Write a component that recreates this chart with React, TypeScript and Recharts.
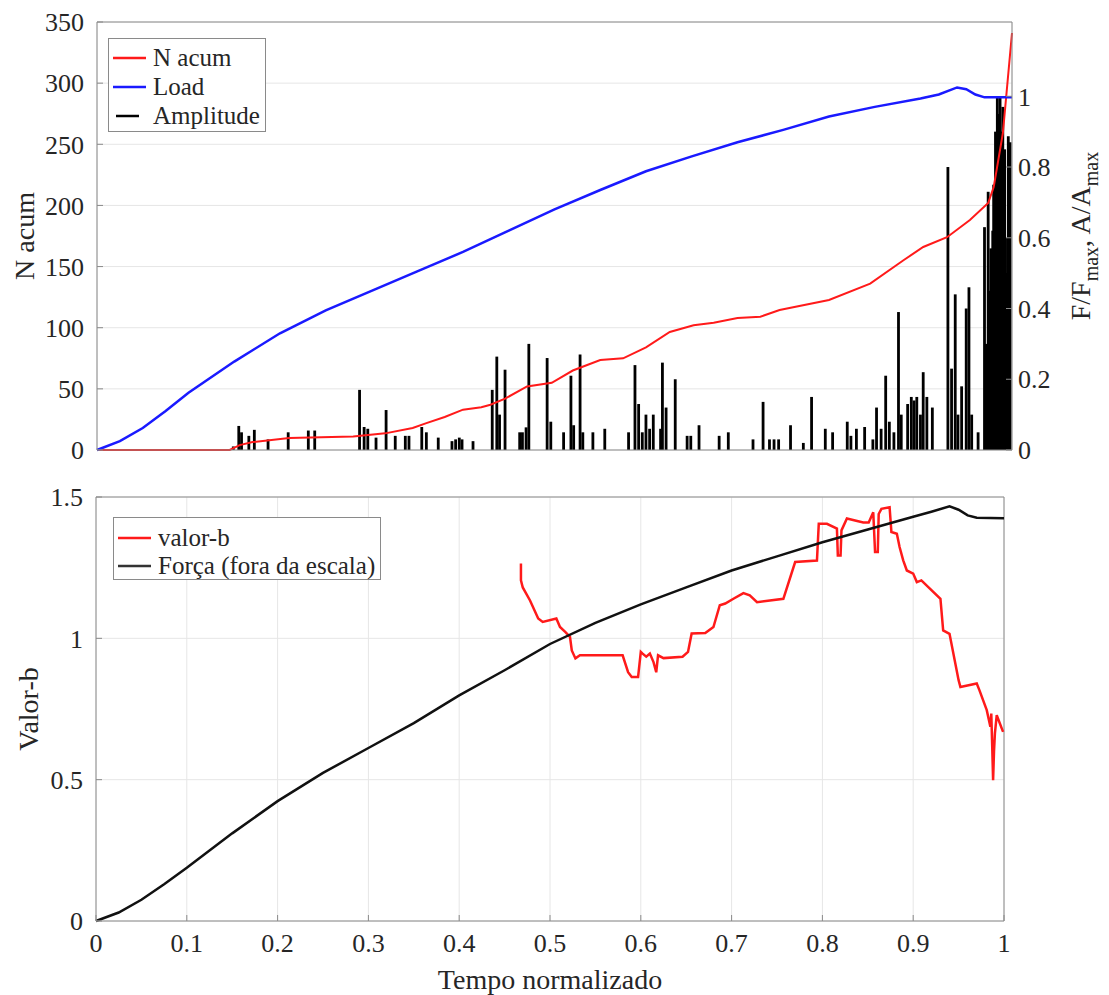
import React from 'react';
import {
  ComposedChart,
  LineChart,
  Line,
  Bar,
  XAxis,
  YAxis,
  CartesianGrid,
  Legend,
  ReferenceLine,
} from 'recharts';

const FONT = '"Liberation Serif", "Times New Roman", serif';
const TEXT = '#262626';
const AXIS = '#8a8a8a';
const GRID = '#e6e6e6';

// axis ticks
const xTicks = [0, 0.1, 0.2, 0.3, 0.4, 0.5, 0.6, 0.7, 0.8, 0.9, 1];
const nTicks = [0, 50, 100, 150, 200, 250, 300, 350];
const ratioTicks = [0, 0.2, 0.4, 0.6, 0.8, 1];
const bTicks = [0, 0.5, 1, 1.5];

// top panel: accumulated hits (left axis)
const nAcumT = [0, 0.145, 0.156, 0.17, 0.21, 0.28, 0.315, 0.345, 0.36, 0.38, 0.4, 0.42, 0.43, 0.446, 0.47, 0.497, 0.52, 0.55, 0.575, 0.6, 0.626, 0.652, 0.674, 0.7, 0.725, 0.746, 0.8, 0.845, 0.881, 0.903, 0.929, 0.954, 0.974, 0.98, 0.99, 1.0];
const nAcumV = [0, 0, 4, 6.5, 9.8, 11, 13.6, 18, 22, 27, 33, 35, 37, 42, 52, 55, 65, 73.6, 75, 84, 96.5, 102, 104, 108, 109, 114.5, 122.7, 136, 155, 166, 174, 188, 202, 215, 259, 341];

// top panel: normalised load (right axis)
const loadT = [0, 0.025, 0.05, 0.075, 0.1, 0.15, 0.2, 0.25, 0.3, 0.35, 0.4, 0.45, 0.5, 0.55, 0.6, 0.65, 0.7, 0.75, 0.8, 0.85, 0.9, 0.92, 0.94, 0.95, 0.96, 0.97, 1.0];
const loadV = [0, 0.025, 0.062, 0.11, 0.162, 0.25, 0.33, 0.395, 0.45, 0.505, 0.56, 0.62, 0.68, 0.735, 0.788, 0.83, 0.87, 0.905, 0.943, 0.97, 0.994, 1.005, 1.025, 1.02, 1.005, 0.997, 0.997];

// top panel: normalised amplitude stems (right axis)
const ampT = [0.149, 0.155, 0.158, 0.166, 0.172, 0.187, 0.209, 0.231, 0.238, 0.287, 0.292, 0.296, 0.305, 0.316, 0.326, 0.337, 0.341, 0.355, 0.36, 0.373, 0.388, 0.392, 0.396, 0.399, 0.411, 0.432, 0.437, 0.44, 0.446, 0.462, 0.465, 0.469, 0.472, 0.492, 0.496, 0.51, 0.518, 0.521, 0.528, 0.531, 0.542, 0.555, 0.581, 0.588, 0.592, 0.596, 0.6, 0.604, 0.608, 0.616, 0.618, 0.622, 0.632, 0.645, 0.649, 0.658, 0.68, 0.69, 0.717, 0.728, 0.735, 0.74, 0.745, 0.758, 0.772, 0.781, 0.796, 0.804, 0.82, 0.824, 0.83, 0.839, 0.848, 0.852, 0.857, 0.862, 0.866, 0.871, 0.876, 0.879, 0.886, 0.89, 0.893, 0.896, 0.9, 0.903, 0.907, 0.913, 0.93, 0.934, 0.938, 0.941, 0.945, 0.95, 0.953, 0.956, 0.963, 0.97, 0.972, 0.974, 0.976, 0.977, 0.979, 0.98, 0.981, 0.982, 0.983, 0.984, 0.985, 0.986, 0.987, 0.988, 0.989, 0.99, 0.991, 0.992, 0.993, 0.994, 0.995, 0.996, 0.997, 0.998];
const ampV = [0.01, 0.068, 0.05, 0.04, 0.057, 0.03, 0.05, 0.055, 0.055, 0.17, 0.065, 0.06, 0.035, 0.113, 0.04, 0.04, 0.04, 0.065, 0.05, 0.035, 0.025, 0.03, 0.035, 0.03, 0.025, 0.17, 0.264, 0.1, 0.227, 0.05, 0.05, 0.064, 0.3, 0.26, 0.08, 0.05, 0.21, 0.07, 0.27, 0.05, 0.05, 0.06, 0.05, 0.24, 0.13, 0.05, 0.1, 0.06, 0.1, 0.06, 0.247, 0.12, 0.2, 0.04, 0.04, 0.07, 0.04, 0.05, 0.03, 0.136, 0.03, 0.03, 0.03, 0.07, 0.02, 0.15, 0.06, 0.05, 0.08, 0.04, 0.06, 0.065, 0.03, 0.12, 0.06, 0.21, 0.08, 0.05, 0.39, 0.1, 0.13, 0.15, 0.14, 0.15, 0.1, 0.22, 0.15, 0.12, 0.8, 0.23, 0.44, 0.1, 0.18, 0.4, 0.46, 0.1, 0.05, 0.63, 0.3, 0.73, 0.45, 0.57, 0.62, 0.75, 0.55, 0.9, 0.7, 1.0, 0.8, 0.95, 1.0, 0.9, 0.6, 0.97, 0.75, 0.85, 0.6, 0.3, 0.5, 0.887, 0.7, 0.87];

// bottom panel: b-value
const valorBT = [0.468, 0.468, 0.47, 0.478, 0.487, 0.492, 0.507, 0.511, 0.517, 0.522, 0.524, 0.528, 0.533, 0.58, 0.586, 0.59, 0.597, 0.6, 0.602, 0.606, 0.61, 0.614, 0.617, 0.619, 0.625, 0.646, 0.652, 0.656, 0.671, 0.68, 0.687, 0.693, 0.702, 0.713, 0.72, 0.728, 0.757, 0.77, 0.794, 0.796, 0.805, 0.816, 0.817, 0.82, 0.821, 0.827, 0.845, 0.851, 0.856, 0.858, 0.861, 0.862, 0.865, 0.874, 0.876, 0.882, 0.885, 0.889, 0.893, 0.9, 0.904, 0.909, 0.93, 0.933, 0.94, 0.95, 0.952, 0.97, 0.973, 0.981, 0.985, 0.986, 0.987, 0.988, 0.989, 0.99, 0.992, 0.999];
const valorBV = [1.265, 1.205, 1.18, 1.134, 1.07, 1.058, 1.07, 1.04, 1.022, 1.005, 0.957, 0.929, 0.94, 0.94, 0.88, 0.863, 0.863, 0.952, 0.946, 0.935, 0.946, 0.916, 0.88, 0.94, 0.93, 0.935, 0.952, 1.017, 1.019, 1.04, 1.117, 1.123, 1.14, 1.16, 1.152, 1.128, 1.14, 1.27, 1.275, 1.405, 1.405, 1.388, 1.293, 1.293, 1.382, 1.424, 1.41, 1.41, 1.446, 1.305, 1.305, 1.44, 1.458, 1.464, 1.376, 1.37, 1.323, 1.276, 1.24, 1.229, 1.199, 1.205, 1.14, 1.028, 1.016, 0.852, 0.828, 0.84, 0.816, 0.746, 0.687, 0.734, 0.62, 0.498, 0.6, 0.664, 0.728, 0.669];

// bottom panel: force (off scale)
const forcaT = [0, 0.025, 0.05, 0.075, 0.1, 0.15, 0.2, 0.25, 0.3, 0.35, 0.4, 0.45, 0.5, 0.55, 0.6, 0.65, 0.7, 0.75, 0.8, 0.85, 0.9, 0.92, 0.94, 0.95, 0.96, 0.97, 1.0];
const forcaV = [0, 0.03, 0.075, 0.13, 0.188, 0.31, 0.424, 0.524, 0.612, 0.7, 0.798, 0.887, 0.98, 1.055, 1.12, 1.18, 1.24, 1.29, 1.34, 1.385, 1.43, 1.448, 1.467, 1.455, 1.435, 1.427, 1.425];

const pair = (ts: number[], vs: number[]) => ts.map((t, i) => ({ t, v: vs[i] }));
const nAcumData = pair(nAcumT, nAcumV);
const loadData = pair(loadT, loadV);
const ampData = pair(ampT, ampV);
const valorBData = pair(valorBT, valorBV);
const forcaData = pair(forcaT, forcaV);

const tickStyle = { fontFamily: FONT, fontSize: 26, fill: TEXT };

type LegendItem = { label: string; color: string; short?: boolean };

const LegendBox = ({ items, width, height, padTop, rowH }: { items: LegendItem[]; width: number; height: number; padTop: number; rowH: number }) => (
  <div
    style={{
      width,
      height,
      boxSizing: 'border-box',
      border: `1px solid ${AXIS}`,
      background: '#fff',
      paddingTop: padTop,
      fontFamily: FONT,
      fontSize: 25,
      color: TEXT,
    }}
  >
    {items.map((it) => (
      <div key={it.label} style={{ display: 'flex', alignItems: 'center', height: rowH, whiteSpace: 'nowrap' }}>
        <svg width={42} height={10} style={{ flex: 'none' }}>
          <line x1={it.short ? 7 : 4} x2={it.short ? 30 : 37} y1={5} y2={5} stroke={it.color} strokeWidth={2.5} />
        </svg>
        <span style={{ marginLeft: 2 }}>{it.label}</span>
      </div>
    ))}
  </div>
);

// amplitude stem, fixed pixel width centred on its x value
const Stem = (props: any) => {
  const { x, y, width, height } = props;
  if (!height || height <= 0) return null;
  return <rect x={x + width / 2 - 1.4} y={y} width={2.8} height={height} fill="#000" />;
};

const VTitle = ({ lx, ly, text }: { lx: number; ly: number; text: string }) => (
  <text transform={`translate(${lx},${ly}) rotate(-90)`} textAnchor="middle" fontFamily={FONT} fontSize={28} fill={TEXT}>
    {text}
  </text>
);

const RightTitle = () => (
  <text transform="translate(1090,236) rotate(-90)" textAnchor="middle" fontFamily={FONT} fontSize={28} fill={TEXT}>
    F/F<tspan fontSize={20} dy={8}>max</tspan>
    <tspan dy={-8}>, A/A</tspan>
    <tspan fontSize={20} dy={8}>max</tspan>
  </text>
);

const BottomTitle = () => (
  <text x={550} y={509} textAnchor="middle" fontFamily={FONT} fontSize={28} fill={TEXT}>
    Tempo normalizado
  </text>
);

export default function App() {
  return (
    <div style={{ position: 'absolute', left: 0, top: 0, width: 1109, height: 995, background: '#fff' }}>
      <div style={{ position: 'absolute', left: 0, top: 0 }}>
        <ComposedChart width={1109} height={480} data={ampData} margin={{ top: 22, right: 37, left: 37, bottom: 0 }}>
          <CartesianGrid stroke={GRID} yAxisId="left" />
          <XAxis
            dataKey="t"
            type="number"
            domain={[0, 1]}
            ticks={xTicks}
            interval={0}
            tick={false}
            tickLine={false}
            axisLine={{ stroke: AXIS }}
            height={30}
          />
          <YAxis
            yAxisId="left"
            domain={[0, 350]}
            ticks={nTicks}
            interval={0}
            width={60}
            tick={tickStyle}
            tickSize={-6}
            tickMargin={19}
            tickLine={{ stroke: AXIS }}
            axisLine={{ stroke: AXIS }}
            label={<VTitle lx={34} ly={236} text="N acum" />}
          />
          <YAxis
            yAxisId="right"
            orientation="right"
            domain={[0, 1.21]}
            ticks={ratioTicks}
            interval={0}
            width={60}
            tick={tickStyle}
            tickSize={-6}
            tickMargin={12}
            tickLine={{ stroke: AXIS }}
            axisLine={{ stroke: AXIS }}
            label={<RightTitle />}
          />
          <ReferenceLine yAxisId="left" y={350} stroke={AXIS} />
          <Bar yAxisId="right" dataKey="v" fill="#000" barSize={3} shape={<Stem />} isAnimationActive={false} />
          <Line yAxisId="left" data={nAcumData} dataKey="v" type="linear" stroke="#ff1a1a" strokeWidth={2} dot={false} isAnimationActive={false} />
          <Line yAxisId="right" data={loadData} dataKey="v" type="linear" stroke="#1a1aff" strokeWidth={2.5} dot={false} isAnimationActive={false} />
          <Legend
            layout="vertical"
            align="center"
            verticalAlign="middle"
            wrapperStyle={{ left: 108, top: 38, width: 158 }}
            content={() => (
              <LegendBox
                width={158}
                height={94}
                padTop={4}
                rowH={29}
                items={[
                  { label: 'N acum', color: '#ff1a1a' },
                  { label: 'Load', color: '#1a1aff' },
                  { label: 'Amplitude', color: '#000', short: true },
                ]}
              />
            )}
          />
        </ComposedChart>
      </div>
      <div style={{ position: 'absolute', left: 0, top: 480 }}>
        <LineChart width={1109} height={515} margin={{ top: 17, right: 105, left: 36, bottom: 0 }}>
          <CartesianGrid stroke={GRID} />
          <XAxis
            dataKey="t"
            type="number"
            domain={[0, 1]}
            ticks={xTicks}
            interval={0}
            height={74}
            tick={tickStyle}
            tickSize={-6}
            tickMargin={19}
            tickLine={{ stroke: AXIS }}
            axisLine={{ stroke: AXIS }}
            label={<BottomTitle />}
          />
          <YAxis
            domain={[0, 1.5]}
            ticks={bTicks}
            interval={0}
            width={60}
            tick={tickStyle}
            tickSize={-6}
            tickMargin={19}
            tickLine={{ stroke: AXIS }}
            axisLine={{ stroke: AXIS }}
            label={<VTitle lx={38} ly={229} text="Valor-b" />}
          />
          <ReferenceLine y={1.5} stroke={AXIS} />
          <ReferenceLine x={1} stroke={AXIS} />
          <Line data={valorBData} dataKey="v" type="linear" stroke="#ff1a1a" strokeWidth={2.5} dot={false} isAnimationActive={false} />
          <Line data={forcaData} dataKey="v" type="linear" stroke="#111" strokeWidth={2.5} dot={false} isAnimationActive={false} />
          <Legend
            layout="vertical"
            align="center"
            verticalAlign="middle"
            wrapperStyle={{ left: 113, top: 37, width: 268 }}
            content={() => (
              <LegendBox
                width={268}
                height={63}
                padTop={6}
                rowH={28}
                items={[
                  { label: 'valor-b', color: '#ff1a1a' },
                  { label: 'Força (fora da escala)', color: '#333' },
                ]}
              />
            )}
          />
        </LineChart>
      </div>
    </div>
  );
}
